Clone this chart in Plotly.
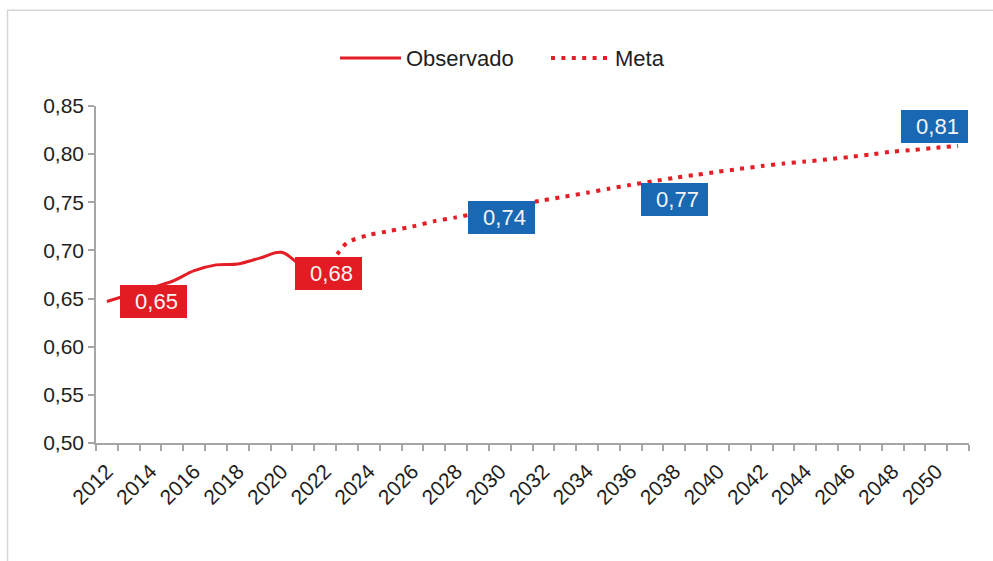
import plotly.graph_objects as go

# ---- data ----
obs_years = [2012, 2013, 2014, 2015, 2016, 2017, 2018, 2019, 2020, 2021, 2022]
obs_values = [0.647, 0.654, 0.661, 0.668, 0.679, 0.685, 0.686, 0.692, 0.698, 0.683, 0.678]

meta_years = list(range(2022, 2052))
meta_values = [0.678, 0.708, 0.716, 0.7204, 0.7248, 0.7304, 0.7343, 0.7389, 0.7435, 0.748,
               0.7522, 0.756, 0.760, 0.7641, 0.7681, 0.7717, 0.7754, 0.7785, 0.7817, 0.7847,
               0.7876, 0.7902, 0.7923, 0.7945, 0.797, 0.7997, 0.8026, 0.8044, 0.8067, 0.8085]

# data labels
label_x = [2014.13, 2022.13, 2030.1, 2038.0, 2049.9]
label_y = [0.6473, 0.6756, 0.7342, 0.7525, 0.8285]
label_text = ["0,65", "0,68", "0,74", "0,77", "0,81"]
label_kind = ["obs", "obs", "meta", "meta", "meta"]

x_tick_vals = list(range(2012, 2051, 2))
x_tick_text = [str(v) for v in x_tick_vals]
y_tick_vals = [0.50, 0.55, 0.60, 0.65, 0.70, 0.75, 0.80, 0.85]

legend_names = ["Observado", "Meta"]

RED = "#E41E26"
BOX_RED = "#E31B23"
BOX_BLUE = "#1868B3"
AXIS = "#A6A6A6"
TXT = "#1E1E1E"
FONT = "Liberation Sans, Arial, sans-serif"

fig = go.Figure()
fig.add_trace(go.Scatter(x=meta_years, y=meta_values, mode="lines", name=legend_names[1],
                         line=dict(color=RED, width=4, dash="4px,6.4px", shape="spline", smoothing=0.6),
                         showlegend=False, hoverinfo="skip"))
fig.add_trace(go.Scatter(x=obs_years, y=obs_values, mode="lines", name=legend_names[0],
                         line=dict(color=RED, width=3, shape="spline", smoothing=1.0),
                         showlegend=False, hoverinfo="skip"))

for x, y, t, k in zip(label_x, label_y, label_text, label_kind):
    fig.add_annotation(x=x, y=y, xref="x", yref="y", text=t + "\u00a0", showarrow=False,
                       font=dict(family=FONT, size=22, color="#F4F4F4"),
                       bgcolor=BOX_RED if k == "obs" else BOX_BLUE,
                       width=61, height=27, borderpad=3, borderwidth=0, align="right",
                       xanchor="center", yanchor="middle")

# plot area in pixels: x 96..969, y 106..443.5
L, R, T, B = 96, 969, 106, 443.5
def px(xp):
    return (xp - L) / (R - L)
def py(yp):
    return (B - yp) / (B - T)

# custom legend
leg_y = py(58)
fig.add_shape(type="line", xref="paper", yref="paper", x0=px(340), x1=px(401), y0=leg_y, y1=leg_y,
              line=dict(color=RED, width=3))
fig.add_shape(type="line", xref="paper", yref="paper", x0=px(551), x1=px(610), y0=leg_y, y1=leg_y,
              line=dict(color=RED, width=4, dash="4px,6.4px"))
fig.add_annotation(x=px(404), y=leg_y, xref="paper", yref="paper", text=legend_names[0],
                   showarrow=False, xanchor="left", yanchor="middle",
                   font=dict(family=FONT, size=22, color=TXT))
fig.add_annotation(x=px(613), y=leg_y, xref="paper", yref="paper", text=legend_names[1],
                   showarrow=False, xanchor="left", yanchor="middle",
                   font=dict(family=FONT, size=22, color=TXT))

# outer frame (top and left edges visible)
fig.add_shape(type="rect", xref="paper", yref="paper", x0=px(7.5), x1=px(1010), y0=py(10), y1=py(580),
              line=dict(color="#D6D6D6", width=1.5), layer="below")

fig.update_layout(
    width=993, height=561,
    margin=dict(l=L, r=993 - R, t=T, b=561 - B),
    paper_bgcolor="white", plot_bgcolor="white",
    separators=",.",
    font=dict(family=FONT, size=21, color=TXT),
    showlegend=False,
)
fig.update_xaxes(
    range=[2011.5, 2051.5], tickmode="array", tickvals=x_tick_vals, ticktext=x_tick_text,
    tickangle=-45, ticks="outside", ticklen=6, tickcolor="rgba(0,0,0,0)",
    tickfont=dict(family=FONT, size=21, color=TXT),
    showline=True, linecolor=AXIS, linewidth=1.5, showgrid=False, zeroline=False,
    minor=dict(tickmode="linear", tick0=2011.5, dtick=1, ticks="outside", ticklen=6,
               tickcolor=AXIS, tickwidth=1.5, showgrid=False),
)
fig.update_yaxes(
    range=[0.5, 0.85], tickmode="array", tickvals=y_tick_vals, tickformat=".2f",
    ticks="outside", ticklen=6, tickcolor=AXIS, tickwidth=1.5,
    tickfont=dict(family=FONT, size=21, color=TXT),
    showline=True, linecolor=AXIS, linewidth=1.5, showgrid=False, zeroline=False,
)

fig.write_html("out.html", config={"displayModeBar": False},
               post_script="document.body.style.margin='0px';document.body.style.overflow='hidden';")
